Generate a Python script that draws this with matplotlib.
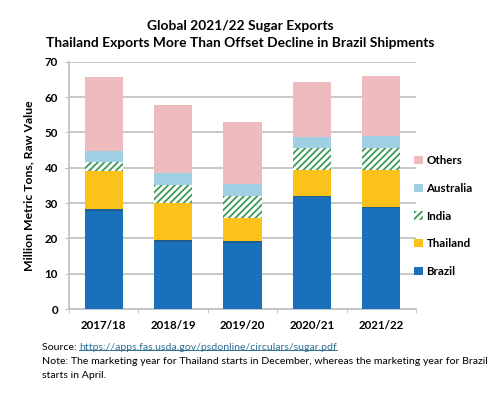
import matplotlib
matplotlib.use("Agg")
import matplotlib.pyplot as plt
import numpy as np
from matplotlib.patches import Patch
from matplotlib.lines import Line2D

plt.rcParams['font.family'] = ['Lato', 'DejaVu Sans']
plt.rcParams['hatch.linewidth'] = 1.3

years = ["2017/18", "2018/19", "2019/20", "2020/21", "2021/22"]
brazil = [28.3, 19.5, 19.2, 32.1, 29.0]
thailand = [10.8, 10.6, 6.6, 7.3, 10.4]
india = [2.4, 5.0, 6.2, 6.1, 6.1]
australia = [3.3, 3.4, 3.4, 3.1, 3.6]
others = [21.0, 19.2, 17.6, 15.6, 16.8]

series = [("Brazil", brazil, "#1a70ba"),
          ("Thailand", thailand, "#fbc21c"),
          ("India", india, "white"),
          ("Australia", australia, "#9fcfe3"),
          ("Others", others, "#eebcbf")]

fig = plt.figure(figsize=(5.02, 3.93), dpi=100)
ax = fig.add_axes([69/502, 1-309/393, (416-69)/502, (309-61.7)/393])

x = np.arange(len(years))
w = 0.55
bottom = np.zeros(len(years))
handles = {}
for name, vals, col in series:
    vals = np.array(vals)
    if name == "India":
        ax.bar(x, vals, w, bottom=bottom, color="white", edgecolor="#3d9a55",
               hatch="/////", linewidth=0, zorder=3)
        handles[name] = Patch(facecolor="white", edgecolor="#3d9a55", hatch="/////", linewidth=0)
    else:
        ax.bar(x, vals, w, bottom=bottom, color=col, linewidth=0, zorder=3)
        handles[name] = Patch(facecolor=col, linewidth=0)
    if name == "Brazil":
        ax.bar(x, np.full(len(years), 0.5), w, bottom=vals - 0.5, color="#1e5f8c",
               linewidth=0, zorder=3)
    bottom += vals

ax.set_xlim(-0.5, len(years) - 0.5)
ax.set_ylim(0, 70)
ax.set_yticks(np.arange(0, 71, 10))
ax.yaxis.grid(True, color="#bfbfbf", linewidth=1.2, zorder=0)
ax.set_axisbelow(True)
ax.set_xticks(x)
ax.set_xticklabels(years, fontweight="bold", fontsize=8.3)
ax.tick_params(axis="x", length=0, pad=8)
ax.set_xticks(np.arange(-0.5, len(years), 1), minor=True)
ax.tick_params(axis="x", which="minor", length=3, color="#bfbfbf")
ax.tick_params(axis="y", length=3, color="#bfbfbf", labelsize=8.3, pad=5)
for lab in ax.get_yticklabels():
    lab.set_fontweight("bold")
for s in ["top", "right"]:
    ax.spines[s].set_visible(False)
for s in ["left", "bottom"]:
    ax.spines[s].set_color("#bfbfbf")
    ax.spines[s].set_linewidth(1.2)

ax.set_ylabel("Million Metric Tons, Raw Value", fontweight="bold", fontsize=8.8, labelpad=7)

order = ["Others", "Australia", "India", "Thailand", "Brazil"]
leg = fig.legend([handles[n] for n in order], order, loc="center left",
                 bbox_to_anchor=(404/502, 1-216/393), frameon=False,
                 prop={"weight": "bold", "size": 8.3}, handlelength=0.75, handleheight=0.75,
                 handletextpad=0.3, labelspacing=1.45)

fig.canvas.draw()
r = fig.canvas.get_renderer()

def fit(t, target_px):
    bb = t.get_window_extent(r)
    t.set_fontsize(t.get_fontsize() * target_px / bb.width)

t0 = fig.text(0.478, 1-26/393, "Global 2021/22 Sugar Exports", ha="center", va="center",
              fontweight="bold", fontsize=10)
tt = fig.text(0.478, 1-43/393, "Thailand Exports More Than Offset Decline in Brazil Shipments",
              ha="center", va="center", fontweight="bold", fontsize=10)
fit(tt, 387)
t0.set_fontsize(tt.get_fontsize())

fs = 8.5
n1 = fig.text(42/502, 1-362/393,
              "Note: The marketing year for Thailand starts in December, whereas the marketing year for Brazil",
              ha="left", va="center", fontsize=fs)
fit(n1, 443)
fs = n1.get_fontsize()
fig.text(42/502, 1-376/393, "starts in April.", ha="left", va="center", fontsize=fs)
t1 = fig.text(42/502, 1-347/393, "Source: ", ha="left", va="center", fontsize=fs)
fig.canvas.draw()
bb = t1.get_window_extent(r)
t2 = fig.text(bb.x1/502, 1-347/393, "https://apps.fas.usda.gov/psdonline/circulars/sugar.pdf",
              ha="left", va="center", fontsize=fs, color="#2f6f95")
fig.canvas.draw()
bb2 = t2.get_window_extent(r)
fig.add_artist(Line2D([bb2.x0/502, bb2.x1/502], [(bb2.y0+2)/393]*2, color="#2f6f95",
                      linewidth=0.7, transform=fig.transFigure))

fig.savefig("out.png", dpi=100)
